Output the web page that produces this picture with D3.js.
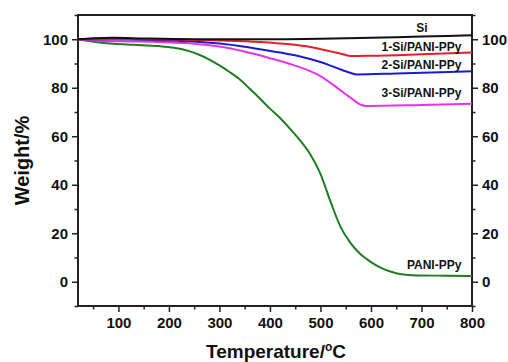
<!DOCTYPE html>
<meta charset="utf-8">
<script src="https://d3js.org/d3.v7.min.js"></script>
<style>
body { margin: 0; background: #fff; }
text { font-family: "Liberation Sans", Arial, sans-serif; font-weight: bold; fill: #111; }
</style>
<div id="chart"></div>
<script>

// TGA curves (temperature in C, weight in %)
const siT = [20, 50, 90, 150, 250, 400, 500, 600, 700, 800];
const siW = [100, 100.4, 100.6, 100.3, 100, 100, 100.2, 100.6, 101.1, 101.6];

const s1T = [20, 100, 200, 300, 380, 440, 480, 520, 545, 560, 600, 700, 800];
const s1W = [100, 100.1, 99.9, 99.5, 98.9, 97.9, 96.8, 95.0, 93.8, 93.1, 93.2, 93.8, 94.5];

const s2T = [20, 100, 180, 260, 300, 340, 380, 420, 460, 500, 520, 540, 560, 572, 650, 800];
const s2W = [100, 100, 99.6, 98.9, 98.2, 97.2, 95.9, 94.5, 92.9, 90.6, 89.1, 87.5, 86.1, 85.5, 85.9, 86.8];

const s3T = [20, 60, 120, 180, 240, 280, 320, 360, 400, 440, 480, 500, 520, 540, 560, 580, 590, 700, 800];
const s3W = [100, 99.4, 99.1, 98.9, 98.3, 97.5, 96.3, 94.4, 92.2, 89.8, 86.8, 84.8, 82.0, 78.9, 75.8, 73.0, 72.5, 72.9, 73.4];

const ppT = [20, 50, 90, 130, 180, 210, 240, 260, 280, 300, 320, 340, 360, 380, 400, 420, 440, 460, 480, 500, 520, 540, 560, 580, 600, 620, 640, 660, 680, 700, 750, 800];
const ppW = [100, 99.0, 98.1, 97.7, 97.2, 96.5, 95.1, 93.6, 91.6, 89.2, 86.5, 83.5, 79.6, 75.6, 71.4, 67.5, 63.0, 58.2, 52.5, 44.5, 33.0, 22.5, 15.8, 11.2, 8.1, 5.7, 4.1, 3.1, 2.7, 2.6, 2.5, 2.4];

const seriesNames = ["Si", "1-Si/PANI-PPy", "2-Si/PANI-PPy", "3-Si/PANI-PPy", "PANI-PPy"];
const seriesColors = ["#111111", "#e3202a", "#1a1ad6", "#e633e6", "#1e7d1e"];

const xMajor = [100, 200, 300, 400, 500, 600, 700, 800];
const xMinor = [50, 150, 250, 350, 450, 550, 650, 750];
const yMajor = [0, 20, 40, 60, 80, 100];
const yMinor = [-10, 10, 30, 50, 70, 90, 110];

const W = 508, H = 362;
const margin = {top: 15, right: 36, bottom: 56, left: 78};
const width = W - margin.left - margin.right,
      height = H - margin.top - margin.bottom;

const svg = d3.select("#chart").append("svg")
    .attr("width", W).attr("height", H);
const g = svg.append("g")
    .attr("transform", `translate(${margin.left},${margin.top})`);

const x = d3.scaleLinear().domain([20, 800]).range([0, width]);
const y = d3.scaleLinear().domain([-10, 110]).range([height, 0]);

function styleAxis(sel) {
  sel.select(".domain").remove();
  sel.selectAll("line").attr("stroke", "#222").attr("stroke-width", 1.5);
  sel.selectAll("text").style("font-size", "15px").attr("fill", "#111");
}

// minor ticks
g.append("g").attr("transform", `translate(0,${height})`)
  .call(d3.axisBottom(x).tickValues(xMinor).tickSize(3.5).tickFormat(""))
  .call(styleAxis);
g.append("g")
  .call(d3.axisLeft(y).tickValues(yMinor).tickSize(3.5).tickFormat(""))
  .call(styleAxis);
g.append("g").attr("transform", `translate(${width},0)`)
  .call(d3.axisRight(y).tickValues(yMinor).tickSize(3.5).tickFormat(""))
  .call(styleAxis);

// major ticks
g.append("g").attr("transform", `translate(0,${height})`)
  .call(d3.axisBottom(x).tickValues(xMajor).tickSize(6).tickPadding(5))
  .call(styleAxis);
g.append("g")
  .call(d3.axisLeft(y).tickValues(yMajor).tickSize(6).tickPadding(4))
  .call(styleAxis);
g.append("g").attr("transform", `translate(${width},0)`)
  .call(d3.axisRight(y).tickValues(yMajor).tickSize(6).tickPadding(4))
  .call(styleAxis);

// frame
g.append("rect")
  .attr("width", width).attr("height", height)
  .attr("fill", "none").attr("stroke", "#222").attr("stroke-width", 2);

const series = [
  d3.zip(siT, siW),
  d3.zip(s1T, s1W),
  d3.zip(s2T, s2W),
  d3.zip(s3T, s3W),
  d3.zip(ppT, ppW)
];

const line = d3.line()
  .x(d => x(d[0]))
  .y(d => y(d[1]))
  .curve(d3.curveMonotoneX);

// draw bottom-up so black ends on top
[4, 3, 2, 1, 0].forEach(i => {
  g.append("path")
    .datum(series[i])
    .attr("d", line)
    .attr("fill", "none")
    .attr("stroke", seriesColors[i])
    .attr("stroke-width", 2);
});

// curve labels
const labelAt = [
  {t: 701, w: 102.9, anchor: "middle"},
  {t: 779, w: 95, anchor: "end"},
  {t: 779, w: 87.9, anchor: "end"},
  {t: 779, w: 76, anchor: "end"},
  {t: 779, w: 5.1, anchor: "end"}
];
labelAt.forEach((p, i) => {
  g.append("text")
    .attr("x", x(p.t)).attr("y", y(p.w))
    .attr("text-anchor", p.anchor)
    .style("font-size", "12px")
    .text(seriesNames[i]);
});

// axis titles
svg.append("text")
  .attr("transform", `translate(29,${margin.top + height / 2}) rotate(-90)`)
  .attr("text-anchor", "middle")
  .style("font-size", "20px")
  .text("Weight/%");

const xt = svg.append("text")
  .attr("x", margin.left + width / 2 + 1).attr("y", 358)
  .attr("text-anchor", "middle")
  .style("font-size", "19px");
xt.append("tspan").text("Temperature/");
xt.append("tspan").attr("dy", -7).style("font-size", "12px").text("o");
xt.append("tspan").attr("dy", 7).text("C");

</script>
